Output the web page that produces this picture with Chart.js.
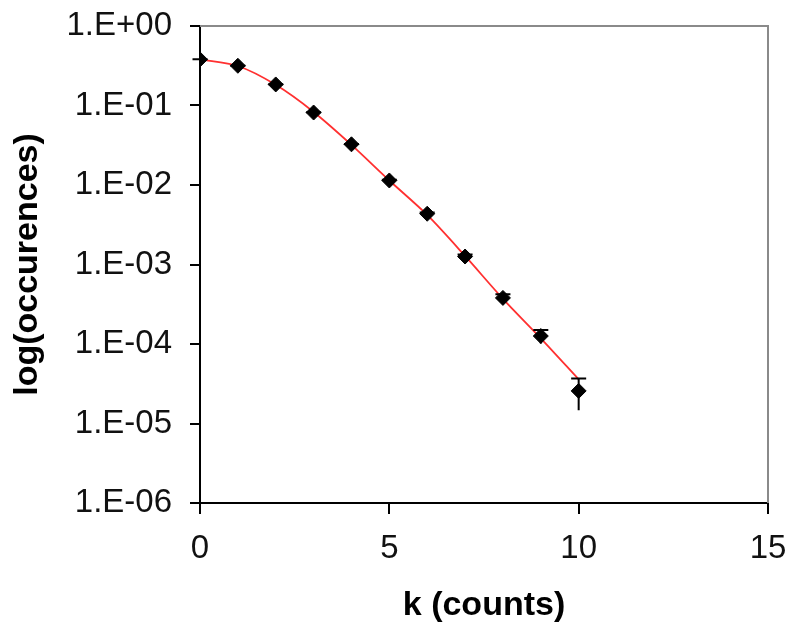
<!DOCTYPE html>
<html>
<head>
<meta charset="utf-8">
<script src="https://cdn.jsdelivr.net/npm/chart.js@4/dist/chart.umd.min.js"></script>
<style>
    html, body { margin: 0; padding: 0; background: #fff; }
    #wrap { width: 792px; height: 625px; position: relative; }
</style>
</head>
<body>
<div id="wrap"><canvas id="poisson-chart"></canvas></div>
<script>
// Counts k and measured fraction of occurrences
const kValues = [0, 1, 2, 3, 4, 5, 6, 7, 8, 9, 10];
const occurrences = [0.38, 0.316, 0.184, 0.0816, 0.0325, 0.0114, 0.00435, 0.00126, 0.00038, 0.000126, 0.0000257];
// Statistical uncertainty on each point
const errors = [0.00135, 0.00123, 0.00094, 0.00062, 0.00039, 0.00023, 0.000144, 0.000077, 0.0000425, 0.0000245, 0.000011];
// Fitted model evaluated at each k
const fitValues = [0.38, 0.314, 0.182, 0.083, 0.032, 0.0114, 0.0042, 0.00128, 0.00037, 0.000118, 0.000036];

// Axis ticks
const xTickValues = [0, 5, 10, 15];
const yTickValues = [1, 0.1, 0.01, 0.001, 0.0001, 0.00001, 0.000001];
const yTickLabels = ['1.E+00', '1.E-01', '1.E-02', '1.E-03', '1.E-04', '1.E-05', '1.E-06'];

const FONT = "'Liberation Sans', Arial, sans-serif";

// Error bars: vertical whisker with a cap on the upper end
const errorBars = {
    id: 'errorBars',
    afterDatasetsDraw(chart) {
        const { ctx, scales: { x, y } } = chart;
        ctx.save();
        ctx.strokeStyle = '#000';
        ctx.lineWidth = 2;
        kValues.forEach((k, i) => {
            const px = x.getPixelForValue(k);
            const top = y.getPixelForValue(occurrences[i] + errors[i]);
            const bottom = y.getPixelForValue(occurrences[i] - errors[i]);
            ctx.beginPath();
            ctx.moveTo(px, top);
            ctx.lineTo(px, bottom);
            ctx.moveTo(px - 7.5, top);
            ctx.lineTo(px + 7.5, top);
            ctx.stroke();
        });
        ctx.restore();
    }
};

// Grey frame on the top and right of the plot area
const plotFrame = {
    id: 'plotFrame',
    beforeDatasetsDraw(chart) {
        const { ctx, chartArea: a } = chart;
        ctx.save();
        ctx.strokeStyle = '#8a8a8a';
        ctx.lineWidth = 2;
        ctx.beginPath();
        ctx.moveTo(a.left, a.top);
        ctx.lineTo(a.right, a.top);
        ctx.lineTo(a.right, a.bottom);
        ctx.stroke();
        ctx.restore();
    }
};

new Chart(document.getElementById('poisson-chart').getContext('2d'), {
    type: 'scatter',
    data: {
        datasets: [{
            label: 'data',
            data: kValues.map((k, i) => ({ x: k, y: occurrences[i] })),
            pointStyle: 'rectRot',
            pointRadius: 7.5,
            pointHoverRadius: 7.5,
            backgroundColor: '#000',
            borderColor: '#000',
            borderWidth: 1,
            showLine: false,
            order: 1
        }, {
            label: 'fit',
            data: kValues.map((k, i) => ({ x: k, y: fitValues[i] })),
            showLine: true,
            borderColor: '#ff3030',
            borderWidth: 1.8,
            pointRadius: 0,
            tension: 0.3,
            order: 2
        }]
    },
    options: {
        responsive: true,
        maintainAspectRatio: false,
        animation: false,
        layout: {
            padding: { top: 26, right: 24, left: 0, bottom: 0 }
        },
        plugins: {
            legend: { display: false },
            tooltip: { enabled: false }
        },
        scales: {
            x: {
                type: 'linear',
                min: 0,
                max: 15,
                afterBuildTicks: s => { s.ticks = xTickValues.map(v => ({ value: v })); },
                afterFit: s => {
                    s.height = 122;
                    s.paddingLeft = 0;
                    s.paddingRight = 0;
                },
                border: { color: '#000', width: 2 },
                grid: {
                    drawOnChartArea: false,
                    drawTicks: true,
                    tickLength: 11,
                    tickColor: '#000',
                    lineWidth: 2
                },
                ticks: {
                    color: '#111',
                    padding: 15,
                    maxRotation: 0,
                    font: { family: FONT, size: 33, lineHeight: 1.2 }
                },
                title: {
                    display: true,
                    text: 'k (counts)',
                    color: '#000',
                    padding: { top: 0, bottom: 2 },
                    font: { family: FONT, size: 34, weight: 'bold', lineHeight: 1 }
                }
            },
            y: {
                type: 'logarithmic',
                min: 0.000001,
                max: 1,
                afterBuildTicks: s => { s.ticks = yTickValues.map(v => ({ value: v })); },
                afterFit: s => {
                    s.width = 200;
                    s.paddingTop = 0;
                    s.paddingBottom = 0;
                },
                border: { color: '#000', width: 2 },
                grid: {
                    drawOnChartArea: false,
                    drawTicks: true,
                    tickLength: 10,
                    tickColor: '#000',
                    lineWidth: 2
                },
                ticks: {
                    color: '#111',
                    padding: 18,
                    font: { family: FONT, size: 33, lineHeight: 1.2 },
                    callback: v => yTickLabels[yTickValues.indexOf(v)] ?? ''
                },
                title: {
                    display: true,
                    text: 'log(occurences)',
                    color: '#000',
                    padding: { top: 11, bottom: 0 },
                    font: { family: FONT, size: 34, weight: 'bold', lineHeight: 1 }
                }
            }
        }
    },
    plugins: [plotFrame, errorBars]
});
</script>
</body>
</html>
